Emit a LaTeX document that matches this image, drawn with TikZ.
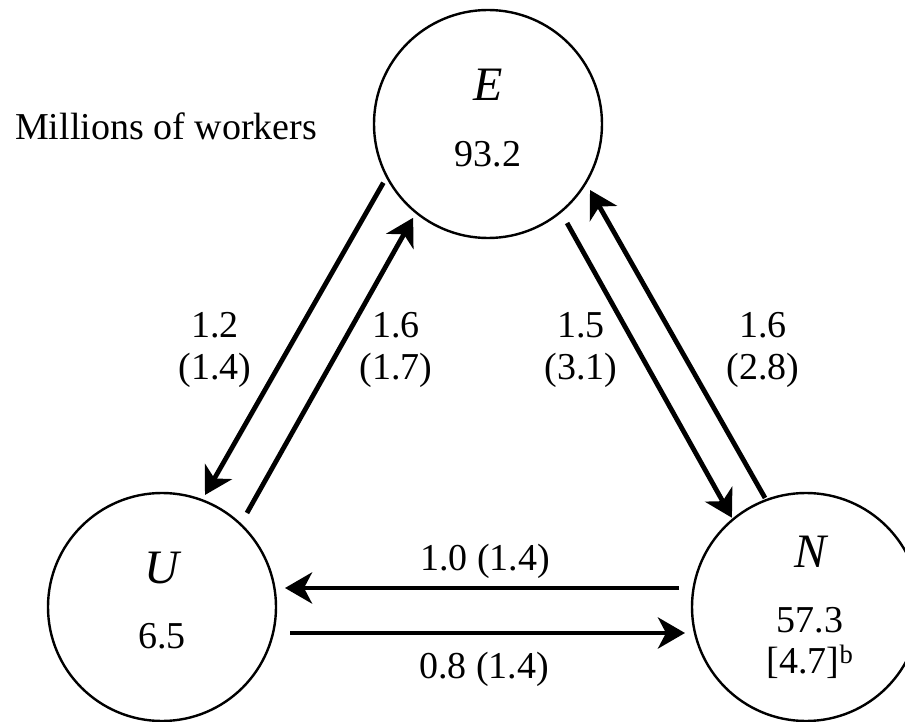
\documentclass[tikz,border=0pt]{standalone}
\usepackage{fontspec}
\setmainfont{Liberation Serif}
\usetikzlibrary{arrows.meta,calc}

\begin{document}
\begin{tikzpicture}[x=1pt,y=1pt,
  state/.style={circle,draw,line width=2.4pt,minimum size=228pt,inner sep=0pt},
  flow/.style={line width=4.8pt,-{Stealth[length=27pt,width=31pt,inset=8pt]}},
  lbl/.style={font=\fontsize{38}{42}\selectfont,align=center,inner sep=0pt},
  txt/.style={font=\fontsize{38}{42}\selectfont,inner sep=0pt},
  sym/.style={font=\fontsize{48}{52}\selectfont\itshape,inner sep=0pt}]
\useasboundingbox (0,0) rectangle (905,721);
\clip (0,0) rectangle (905,721);

% labour-market states
\node[state] (E) at (488,597) {};
\node[state] (U) at (162,114) {};
\node[state] (N) at (806,114) {};

\node[sym,anchor=base] (Et) at (488,620) {E};
\node[txt,anchor=base] (Ev) at (488,554) {93.2};
\node[sym,anchor=base] (Ut) at (162,138) {U};
\node[txt,anchor=base] (Uv) at (162,73) {6.5};
\node[sym,anchor=base] (Nt) at (810,154) {N};
\node[txt,anchor=base] (Nv) at (810,89) {57.3};
\node[txt,anchor=base] (Nb) at (810,48) {[4.7]\textsuperscript{b}};

\node[txt,anchor=base west] (title) at (15,581) {Millions of workers};

% flows between states
\draw[flow] ($(E)+(209.3:120)$) -- ($(U)+(69:120)$);
\draw[flow] ($(U)+(47.9:126.7)$) -- ($(E)+(231.4:120)$);
\draw[flow] ($(E)+(308.6:126.7)$) -- ($(N)+(129.7:116)$);
\draw[flow] ($(N)+(110.6:116.5)$) -- ($(E)+(-32.9:121.5)$);
\draw[flow] ($(N)+(-127,19)$) -- ($(U)+(123,19)$);
\draw[flow] ($(U)+(128,-26)$) -- ($(N)+(-121,-26)$);

% flow rates
\node[lbl] (l1) at (215,371) {1.2\\(1.4)};
\node[lbl] (l2) at (396,371) {1.6\\(1.7)};
\node[lbl] (l3) at (581,371) {1.5\\(3.1)};
\node[lbl] (l4) at (763,371) {1.6\\(2.8)};
\node[txt,anchor=base] (l5) at (485,151) {1.0 (1.4)};
\node[txt,anchor=base] (l6) at (484,43) {0.8 (1.4)};
\end{tikzpicture}
\end{document}
